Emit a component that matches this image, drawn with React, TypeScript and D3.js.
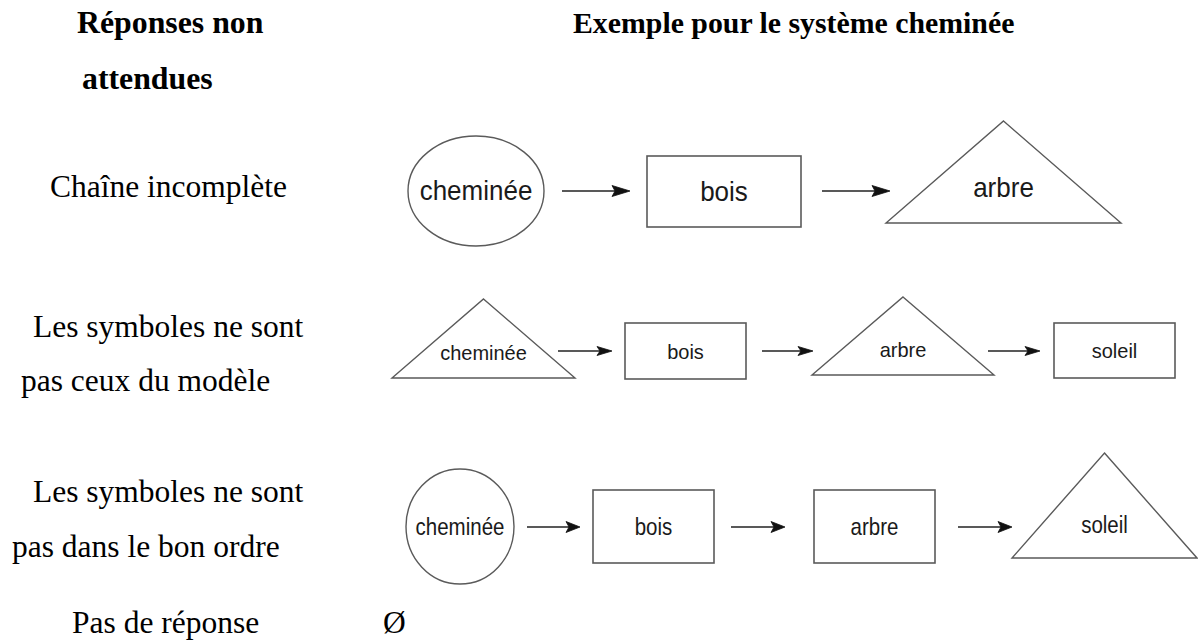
import React from "react";
import * as d3 from "d3";

// ---- Text content ----
const headerLeft = ["Réponses non", "attendues"];
const headerRight = "Exemple pour le système cheminée";
const rowLabels = [
  ["Chaîne incomplète"],
  ["Les symboles ne sont", "pas ceux du modèle"],
  ["Les symboles ne sont", "pas dans le bon ordre"],
  ["Pas de réponse"],
];
const noAnswerSymbol = "Ø";

// ---- Diagram content (shape kind + label per node, per row) ----
const row1Shapes = ["ellipse", "rect", "triangle"];
const row1Labels = ["cheminée", "bois", "arbre"];
const row2Shapes = ["triangle", "rect", "triangle", "rect"];
const row2Labels = ["cheminée", "bois", "arbre", "soleil"];
const row3Shapes = ["ellipse", "rect", "rect", "triangle"];
const row3Labels = ["cheminée", "bois", "arbre", "soleil"];

// ---- Layout (positions/sizes kept separate from content) ----
type Box = { x0: number; x1: number; y0: number; y1: number; ty?: number };
const row1Boxes: Box[] = [
  { x0: 408, x1: 544, y0: 136, y1: 246 },
  { x0: 647, x1: 801, y0: 156, y1: 227 },
  { x0: 886, x1: 1121, y0: 121, y1: 223, ty: 188 },
];
const row2Boxes: Box[] = [
  { x0: 392, x1: 575, y0: 299, y1: 378, ty: 352 },
  { x0: 625, x1: 746, y0: 323, y1: 379 },
  { x0: 812, x1: 994, y0: 297, y1: 375, ty: 349 },
  { x0: 1054, x1: 1175, y0: 323, y1: 378 },
];
const row3Boxes: Box[] = [
  { x0: 406, x1: 514, y0: 469, y1: 584 },
  { x0: 593, x1: 714, y0: 490, y1: 563 },
  { x0: 814, x1: 935, y0: 490, y1: 563 },
  { x0: 1012, x1: 1197, y0: 453, y1: 558, ty: 525 },
];
const row1Arrows = [[562, 630], [822, 890]];
const row2Arrows = [[558, 612], [762, 813], [988, 1040]];
const row3Arrows = [[527, 580], [731, 785], [958, 1012]];

const rows = [
  { shapes: row1Shapes, labels: row1Labels, boxes: row1Boxes, arrows: row1Arrows, ay: 191, font: 26, sy: 1.05, head: [18, 5.5] },
  { shapes: row2Shapes, labels: row2Labels, boxes: row2Boxes, arrows: row2Arrows, ay: 351, font: 20, sy: 1.05, head: [15, 4.5] },
  { shapes: row3Shapes, labels: row3Labels, boxes: row3Boxes, arrows: row3Arrows, ay: 527, font: 20.5, sy: 1.15, head: [14, 5.5] },
];

const SERIF = "'Liberation Serif', 'Times New Roman', serif";
const SANS = "'Liberation Sans', Arial, sans-serif";
const STROKE = "#5a5a5a";

const line = d3.line<[number, number]>();

function Shape({ kind, b }: { kind: string; b: Box }) {
  if (kind === "ellipse") {
    return (
      <ellipse
        cx={(b.x0 + b.x1) / 2}
        cy={(b.y0 + b.y1) / 2}
        rx={(b.x1 - b.x0) / 2}
        ry={(b.y1 - b.y0) / 2}
        fill="white"
        stroke={STROKE}
        strokeWidth={1.4}
      />
    );
  }
  if (kind === "rect") {
    return (
      <rect x={b.x0} y={b.y0} width={b.x1 - b.x0} height={b.y1 - b.y0} fill="white" stroke={STROKE} strokeWidth={1.6} />
    );
  }
  const pts: [number, number][] = [
    [(b.x0 + b.x1) / 2, b.y0],
    [b.x1, b.y1],
    [b.x0, b.y1],
  ];
  return <path d={line(pts)! + "Z"} fill="white" stroke={STROKE} strokeWidth={1.4} strokeLinejoin="miter" />;
}

export default function App() {
  return (
    <svg
      width={1198}
      height={644}
      viewBox="0 0 1198 644"
      style={{ position: "absolute", left: 0, top: 0, background: "white" }}
    >
      {/* Headers */}
      <text x={77} y={33} fontFamily={SERIF} fontWeight="bold" fontSize={31.8}>{headerLeft[0]}</text>
      <text x={82} y={89} fontFamily={SERIF} fontWeight="bold" fontSize={31.8}>{headerLeft[1]}</text>
      <text x={573} y={33} fontFamily={SERIF} fontWeight="bold" fontSize={29.8}>{headerRight}</text>

      {/* Row labels */}
      <text x={50} y={197} fontFamily={SERIF} fontSize={31.5}>{rowLabels[0][0]}</text>
      <text x={33} y={337} fontFamily={SERIF} fontSize={31.5}>{rowLabels[1][0]}</text>
      <text x={21} y={391} fontFamily={SERIF} fontSize={31.5}>{rowLabels[1][1]}</text>
      <text x={33} y={502} fontFamily={SERIF} fontSize={31.5}>{rowLabels[2][0]}</text>
      <text x={12} y={557} fontFamily={SERIF} fontSize={31.5}>{rowLabels[2][1]}</text>
      <text x={72} y={633} fontFamily={SERIF} fontSize={31.5}>{rowLabels[3][0]}</text>
      <text x={383} y={633} fontFamily={SERIF} fontSize={31.5}>{noAnswerSymbol}</text>

      {/* Diagrams */}
      {rows.map((r, ri) => (
        <g key={ri}>
          {r.arrows.map(([x0, x1], ai) => {
            const [hl, hw] = r.head;
            const head: [number, number][] = [
              [x1, r.ay],
              [x1 - hl, r.ay - hw],
              [x1 - hl + 3, r.ay],
              [x1 - hl, r.ay + hw],
            ];
            return (
              <g key={ai}>
                <path d={line([[x0, r.ay], [x1 - hl + 3, r.ay]])!} stroke="#222" strokeWidth={1.4} fill="none" />
                <path d={line(head)! + "Z"} fill="#111" stroke="#111" strokeWidth={0.8} />
              </g>
            );
          })}
          {r.shapes.map((kind, si) => {
            const b = r.boxes[si];
            const cx = (b.x0 + b.x1) / 2;
            const cy = b.ty ?? (b.y0 + b.y1) / 2;
            return (
              <g key={si}>
                <Shape kind={kind} b={b} />
                <g transform={`translate(${cx},${cy}) scale(1,${r.sy})`}>
                  <text
                    x={0}
                    y={0}
                    textAnchor="middle"
                    dominantBaseline="central"
                    fontFamily={SANS}
                    fontSize={r.font}
                    fill="#1a1a1a"
                  >
                    {r.labels[si]}
                  </text>
                </g>
              </g>
            );
          })}
        </g>
      ))}
    </svg>
  );
}
